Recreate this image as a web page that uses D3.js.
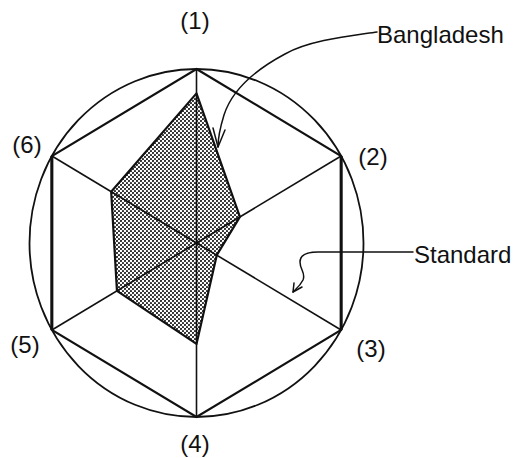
<!DOCTYPE html>
<html>
<head>
<meta charset="utf-8">
<script src="https://cdn.jsdelivr.net/npm/d3@7/dist/d3.min.js"></script>
<style>
  html, body { margin: 0; padding: 0; background: #fff; }
  svg { display: block; }
  text { font-family: "Liberation Sans", Arial, sans-serif; fill: #111; }
</style>
</head>
<body>
<svg id="chart" width="516" height="458"></svg>
<script>
// ---- data ----
const axes = ["(1)", "(2)", "(3)", "(4)", "(5)", "(6)"];
const bangladesh = [0.86, 0.30, 0.14, 0.58, 0.55, 0.59];
const standard = [1, 1, 1, 1, 1, 1];
const seriesNames = ["Bangladesh", "Standard"];

// ---- layout ----
const W = 516, H = 458;
const cx = 196.5, cy = 243, rx = 167, ry = 174;

const svg = d3.select("#chart");

const x = d3.scaleLinear().domain([-1, 1]).range([cx - rx, cx + rx]);
const y = d3.scaleLinear().domain([-1, 1]).range([cy + ry, cy - ry]);
const angle = d3.scaleLinear().domain([0, axes.length]).range([0, 2 * Math.PI]);

const pt = (v, i) => [x(v * Math.sin(angle(i))), y(v * Math.cos(angle(i)))];

// pattern for stippled fill
const defs = svg.append("defs");
const pat = defs.append("pattern")
  .attr("id", "stip").attr("patternUnits", "userSpaceOnUse")
  .attr("width", 4).attr("height", 4);
pat.append("rect").attr("width", 4).attr("height", 4).attr("fill", "#fff");
pat.append("circle").attr("cx", 1).attr("cy", 1).attr("r", 1.1).attr("fill", "#222");
pat.append("circle").attr("cx", 3).attr("cy", 3).attr("r", 1.1).attr("fill", "#222");

const line = d3.line().curve(d3.curveLinearClosed);

// Bangladesh fill
const bPts = bangladesh.map((v, i) => pt(v, i));
svg.append("path").attr("d", line(bPts)).attr("fill", "url(#stip)").attr("stroke", "none");

// circle (ellipse through standard vertices)
svg.append("ellipse")
  .attr("cx", x(0)).attr("cy", y(0))
  .attr("rx", x(1) - x(0)).attr("ry", y(0) - y(1))
  .attr("fill", "none").attr("stroke", "#111").attr("stroke-width", 1.8);

// spokes (diameters)
axes.forEach((a, i) => {
  const p = pt(1, i);
  svg.append("line")
    .attr("x1", x(0)).attr("y1", y(0)).attr("x2", p[0]).attr("y2", p[1])
    .attr("stroke", "#111").attr("stroke-width", 1.6);
});

// Standard hexagon
const sPts = standard.map((v, i) => pt(v, i));
svg.append("path").attr("d", line(sPts))
  .attr("fill", "none").attr("stroke", "#111").attr("stroke-width", 2.2)
  .attr("stroke-linejoin", "miter");
// thicker vertical sides
[[1, 2], [4, 5]].forEach(([a, b]) => {
  svg.append("line")
    .attr("x1", sPts[a][0]).attr("y1", sPts[a][1])
    .attr("x2", sPts[b][0]).attr("y2", sPts[b][1])
    .attr("stroke", "#111").attr("stroke-width", 3);
});

// Bangladesh outline
svg.append("path").attr("d", line(bPts))
  .attr("fill", "none").attr("stroke", "#111").attr("stroke-width", 2.2)
  .attr("stroke-linejoin", "round");

// axis labels
const labelPos = [
  [195, 29], [373, 165], [371, 357], [195, 452], [25, 353], [27, 153]
];
axes.forEach((a, i) => {
  svg.append("text")
    .attr("x", labelPos[i][0]).attr("y", labelPos[i][1])
    .attr("text-anchor", "middle").attr("font-size", 24)
    .text(a);
});

// series labels with leaders
svg.append("text").attr("x", 377).attr("y", 43).attr("font-size", 24).text(seriesNames[0]);
svg.append("text").attr("x", 414).attr("y", 263).attr("font-size", 24).text(seriesNames[1]);

const lead = svg.append("g").attr("fill", "none").attr("stroke", "#111")
  .attr("stroke-width", 1.5).attr("stroke-linecap", "round").attr("stroke-linejoin", "round");

// Bangladesh leader
lead.append("path").attr("d",
  "M377,32 C350,36 310,40 285,54 C255,70 232,90 224,115 C220,128 218,138 218,147");
lead.append("path").attr("d", "M213,128 L218,147 L225,130");

// Standard leader
lead.append("path").attr("d",
  "M413,252 L318,252 C308,252 300,254 300,262 C300,270 306,273 303,280 C300,286 296,289 293,292");
lead.append("path").attr("d", "M294,283 L293,292 L302,287");
</script>
</body>
</html>
